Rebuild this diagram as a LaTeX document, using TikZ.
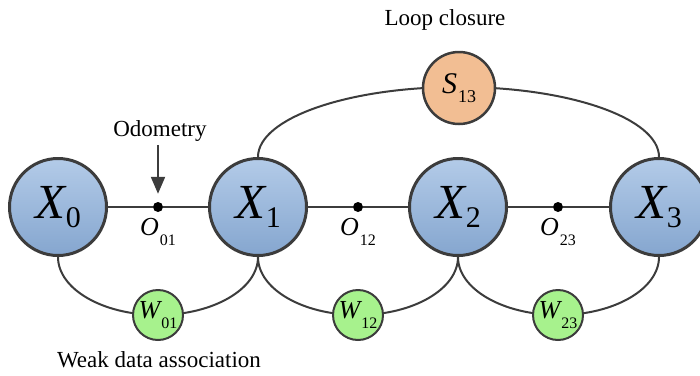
\documentclass[tikz,border=0pt]{standalone}
\usepackage{fontspec}
\setmainfont{Liberation Serif}
\usepackage{xcolor}
\usetikzlibrary{arrows.meta,positioning,backgrounds}

\definecolor{poseTop}{HTML}{B3CBE8}
\definecolor{poseBot}{HTML}{85A6CF}
\definecolor{loopFill}{HTML}{F2BE93}
\definecolor{weakFill}{HTML}{A7F28D}
\definecolor{edgeGray}{HTML}{3C3C3C}

% italic letter with an upright index
\newcommand{\varlab}[4]{{\fontsize{#3}{#3}\selectfont\itshape #1}\kern1pt\raisebox{-0.4em}{\fontsize{#4}{#4}\selectfont #2}}

\begin{document}
\begin{tikzpicture}[
  x=1pt, y=-1pt,
  font=\fontsize{23}{25}\selectfont,
  pose/.style={circle,draw=edgeGray,line width=3pt,top color=poseTop,bottom color=poseBot,minimum size=97pt,inner sep=0pt},
  loopbox/.style={circle,draw=edgeGray,line width=2.5pt,fill=loopFill,minimum size=72pt,inner sep=0pt},
  weakbox/.style={circle,draw=edgeGray,line width=2pt,fill=weakFill,minimum size=50pt,inner sep=0pt},
  odo/.style={circle,fill=black,minimum size=10pt,inner sep=0pt},
  edge/.style={draw=edgeGray,line width=2pt},
  arrow/.style={-{Triangle[length=17pt,width=14pt]},line width=2pt,draw=edgeGray},
]
\useasboundingbox (0,0) rectangle (700,375);

\node[pose] (x0) at (58,207)  {\varlab{X}{0}{49}{30}};
\node[pose] (x1) at (258,207) {\varlab{X}{1}{49}{30}};
\node[pose] (x2) at (458,207) {\varlab{X}{2}{49}{30}};
\node[pose] (x3) at (659,207) {\varlab{X}{3}{49}{30}};

\node[odo] (o01) at (158,207) {};
\node[odo] (o12) at (358,207) {};
\node[odo] (o23) at (558,207) {};
\node[below=3pt of o01] (lo01) {\varlab{O}{01}{26}{16}};
\node[below=3pt of o12] (lo12) {\varlab{O}{12}{26}{16}};
\node[below=3pt of o23] (lo23) {\varlab{O}{23}{26}{16}};

\node[loopbox] (s13) at (459,88) {\varlab{S}{13}{30}{18}};

\node[weakbox] (w01) at (158,315) {\varlab{W}{01}{26}{16}};
\node[weakbox] (w12) at (358,315) {\varlab{W}{12}{26}{16}};
\node[weakbox] (w23) at (558,315) {\varlab{W}{23}{26}{16}};

\node (loop) at (445,20)  {Loop closure};
\node (odom) at (160,131) {Odometry};
\node (weak) at (159,360) {Weak data association};

\begin{scope}[on background layer]
% odometry chain
\draw[edge] (x0) -- (o01) -- (x1) -- (o12) -- (x2) -- (o23) -- (x3);
% loop closure
\draw[edge] (x1.north) arc[start angle=180,end angle=360,x radius=200.5,y radius=70];
% weak associations
\draw[edge] (x0.south) arc[start angle=180,end angle=0,x radius=100,y radius=58];
\draw[edge] (x1.south) arc[start angle=180,end angle=0,x radius=100,y radius=58];
\draw[edge] (x2.south) arc[start angle=180,end angle=0,x radius=100.5,y radius=58];
\end{scope}
\draw[arrow,shorten >=8pt] (odom.south -| o01) -- (o01);
\end{tikzpicture}
\end{document}
